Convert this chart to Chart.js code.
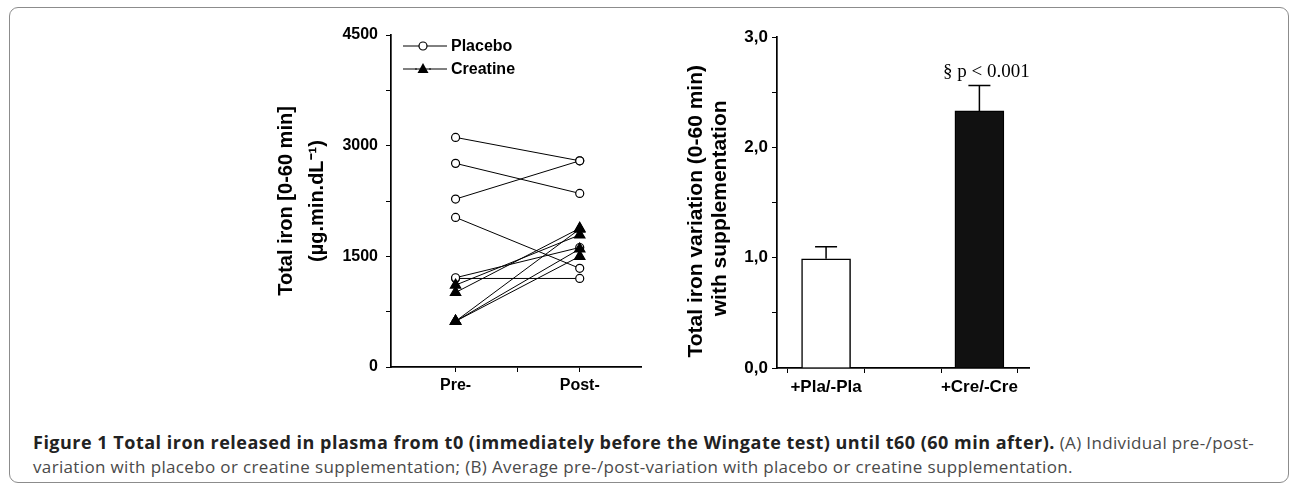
<!DOCTYPE html>
<html><head><meta charset="utf-8">
<script src="https://cdn.jsdelivr.net/npm/chart.js@4.4.1/dist/chart.umd.min.js"></script>
<style>
html,body{margin:0;padding:0;background:#fff;}
body{width:1292px;height:484px;position:relative;overflow:hidden;font-family:"Liberation Sans",Arial,sans-serif;}
#frame{position:absolute;left:9px;top:7px;width:1280px;height:476px;border:1px solid #8c8c8c;border-radius:9px;box-sizing:border-box;}
.box{position:absolute;}
#boxA{left:267px;top:15px;width:382px;height:387px;}
#boxB{left:680px;top:15px;width:350px;height:388px;}
#caption{position:absolute;left:33px;top:430px;font-family:"Open Sans",sans-serif;font-size:17px;letter-spacing:0.35px;line-height:24px;color:#4a4a4a;white-space:nowrap;}
#caption b{color:#222;font-weight:700;font-size:18px;letter-spacing:0.5px;}
</style></head>
<body>
<div id="frame"></div>
<div class="box" id="boxA"><canvas id="chartA"></canvas></div>
<div class="box" id="boxB"><canvas id="chartB"></canvas></div>
<div id="caption"><b>Figure 1 Total iron released in plasma from t0 (immediately before the Wingate test) until t60 (60 min after).</b> (A) Individual pre-/post-<br>variation with placebo or creatine supplementation; (B) Average pre-/post-variation with placebo or creatine supplementation.</div>
<script>
// ---------- Data: panel A (individual values, µg.min.dL-1) ----------
const phases = ['Pre-', 'Post-'];
const seriesNames = ['Placebo', 'Creatine'];
const placeboPre  = [3112, 2760, 2276, 2028, 1210, 1200];
const placeboPost = [2795, 2353, 2795, 1337, 1620, 1200];
const creatinePre  = [1110, 1010, 620, 620, 620];
const creatinePost = [1790, 1880, 1870, 1600, 1500];
const yTicksA = [0, 1500, 3000, 4500];

// ---------- Data: panel B (mean ± SEM) ----------
const groupsB = ['+Pla/-Pla', '+Cre/-Cre'];
const meansB = [0.99, 2.33];
const semB = [0.11, 0.23];
const noteB = '§ p < 0.001';

Chart.defaults.font.family = "'Liberation Sans', Arial, sans-serif";
Chart.defaults.color = '#000';
Chart.defaults.animation = false;

const axisGrid = {display:true, drawOnChartArea:false, drawTicks:true, tickLength:5, color:'#000', lineWidth:1};
const axisBorder = {display:true, color:'#000', width:1.7};

// ---------- Panel A ----------
function subjectSet(pre, post, isCre, i) {
  return {
    label: (isCre ? seriesNames[1] : seriesNames[0]) + ' ' + (i + 1),
    data: [{x: 1, y: pre[i]}, {x: 2, y: post[i]}],
    borderColor: '#000',
    borderWidth: 1,
    pointStyle: isCre ? 'triangle' : 'circle',
    pointRadius: isCre ? 6 : 4,
    pointBackgroundColor: isCre ? '#000' : '#fff',
    pointBorderColor: '#000',
    pointBorderWidth: 1.2,
    order: isCre ? 1 : 2,
    tension: 0
  };
}
const dsA = [];
placeboPre.forEach((v, i) => dsA.push(subjectSet(placeboPre, placeboPost, false, i)));
creatinePre.forEach((v, i) => dsA.push(subjectSet(creatinePre, creatinePost, true, i)));

const legendA = {
  id: 'legendA',
  afterDraw(chart) {
    const ctx = chart.ctx, a = chart.chartArea;
    ctx.save();
    seriesNames.forEach((name, k) => {
      const y = a.top + 11 + k * 23;
      const x0 = a.left + 12;
      ctx.strokeStyle = '#000'; ctx.lineWidth = 1;
      ctx.beginPath(); ctx.moveTo(x0, y); ctx.lineTo(x0 + 44, y); ctx.stroke();
      const cx = x0 + 20;
      if (k === 0) {
        ctx.beginPath(); ctx.arc(cx, y, 4, 0, Math.PI * 2);
        ctx.fillStyle = '#fff'; ctx.fill(); ctx.lineWidth = 1.2; ctx.stroke();
      } else {
        ctx.fillStyle = '#fff'; ctx.fillRect(cx - 6, y - 6, 12, 12);
        ctx.beginPath();
        ctx.moveTo(cx, y - 6); ctx.lineTo(cx + 5.5, y + 4); ctx.lineTo(cx - 5.5, y + 4); ctx.closePath();
        ctx.fillStyle = '#000'; ctx.fill();
        ctx.beginPath(); ctx.moveTo(cx - 8, y); ctx.lineTo(cx + 8, y); ctx.stroke();
      }
      ctx.fillStyle = '#000';
      ctx.font = "bold 16px 'Liberation Sans', Arial, sans-serif";
      ctx.textBaseline = 'middle'; ctx.textAlign = 'left';
      ctx.fillText(name, x0 + 48, y + 1);
    });
    ctx.restore();
  }
};

new Chart(document.getElementById('chartA'), {
  type: 'line',
  data: {datasets: dsA},
  options: {
    responsive: true, maintainAspectRatio: false,
    layout: {padding: {top: 20, right: 0, bottom: 0, left: 0}},
    plugins: {legend: {display: false}, tooltip: {enabled: false}},
    scales: {
      x: {
        type: 'linear', min: 0.48, max: 2.5,
        afterBuildTicks: s => { s.ticks = [{value: 1}, {value: 1.5}, {value: 2}]; },
        afterFit: s => { s.height = 35; },
        ticks: {callback: v => Number.isInteger(v) ? phases[v - 1] : '', font: {size: 16, weight: 'bold'}, padding: 4, maxRotation: 0, autoSkip: false},
        grid: axisGrid, border: axisBorder
      },
      y: {
        min: 0, max: 4500,
        afterBuildTicks: s => { const t = []; for (let v = 0; v <= 4500; v += 750) t.push({value: v}); s.ticks = t; },
        afterFit: s => { s.width = 124; },
        ticks: {callback: v => yTicksA.includes(v) ? String(v) : '', font: {size: 16, weight: 'bold'}, padding: 8, autoSkip: false},
        grid: axisGrid, border: axisBorder,
        title: {display: true, text: ['Total iron [0-60 min]', '(µg.min.dL⁻¹)'], font: {size: 20, weight: 'bold', lineHeight: 1.55}, padding: {top: 4, bottom: 4}}
      }
    }
  },
  plugins: [legendA]
});

// ---------- Panel B ----------
const errorBars = {
  id: 'errorBars',
  afterDatasetsDraw(chart) {
    const ctx = chart.ctx, xs = chart.scales.x, ys = chart.scales.y;
    ctx.save();
    ctx.strokeStyle = '#000'; ctx.lineWidth = 1.5;
    meansB.forEach((m, i) => {
      const x = xs.getPixelForValue(i + 1);
      const y0 = ys.getPixelForValue(m);
      const y1 = ys.getPixelForValue(m + semB[i]);
      ctx.beginPath();
      ctx.moveTo(x, y0); ctx.lineTo(x, y1);
      ctx.moveTo(x - 11, y1); ctx.lineTo(x + 11, y1);
      ctx.stroke();
    });
    ctx.fillStyle = '#000';
    ctx.font = "19px 'Liberation Serif', 'Times New Roman', serif";
    ctx.textAlign = 'center'; ctx.textBaseline = 'middle';
    ctx.fillText(noteB, xs.getPixelForValue(2) + 7, ys.getPixelForValue(2.68));
    ctx.restore();
  }
};

new Chart(document.getElementById('chartB'), {
  type: 'bar',
  data: {
    datasets: [{
      data: meansB.map((m, i) => ({x: i + 1, y: m})),
      backgroundColor: ['#fff', '#111'],
      borderColor: '#000',
      borderWidth: 1.5,
      barThickness: 49
    }]
  },
  options: {
    responsive: true, maintainAspectRatio: false,
    layout: {padding: {top: 22, right: 0, bottom: 0, left: 0}},
    plugins: {legend: {display: false}, tooltip: {enabled: false}},
    scales: {
      x: {
        type: 'linear', min: 0.68, max: 2.33, offset: false,
        afterBuildTicks: s => { s.ticks = [{value: 1}, {value: 1.5}, {value: 2}]; },
        afterFit: s => { s.height = 35; },
        ticks: {callback: v => Number.isInteger(v) ? groupsB[v - 1] : '', font: {size: 17, weight: 'bold'}, padding: 4, maxRotation: 0, autoSkip: false},
        grid: axisGrid, border: axisBorder
      },
      y: {
        min: 0, max: 3,
        afterBuildTicks: s => { const t = []; for (let v = 0; v <= 3; v += 0.5) t.push({value: v}); s.ticks = t; },
        afterFit: s => { s.width = 97; },
        ticks: {callback: v => Number.isInteger(v) ? v.toFixed(1).replace('.', ',') : '', font: {size: 17, weight: 'bold'}, padding: 4, autoSkip: false},
        grid: axisGrid, border: axisBorder,
        title: {display: true, text: ['Total iron variation (0-60 min)\u00a0\u00a0\u00a0', 'with supplementation\u00a0\u00a0'], font: {size: 21, weight: 'bold', lineHeight: 1.15}, padding: {top: 4, bottom: 4}}
      }
    }
  },
  plugins: [errorBars]
});
</script>
</body></html>
